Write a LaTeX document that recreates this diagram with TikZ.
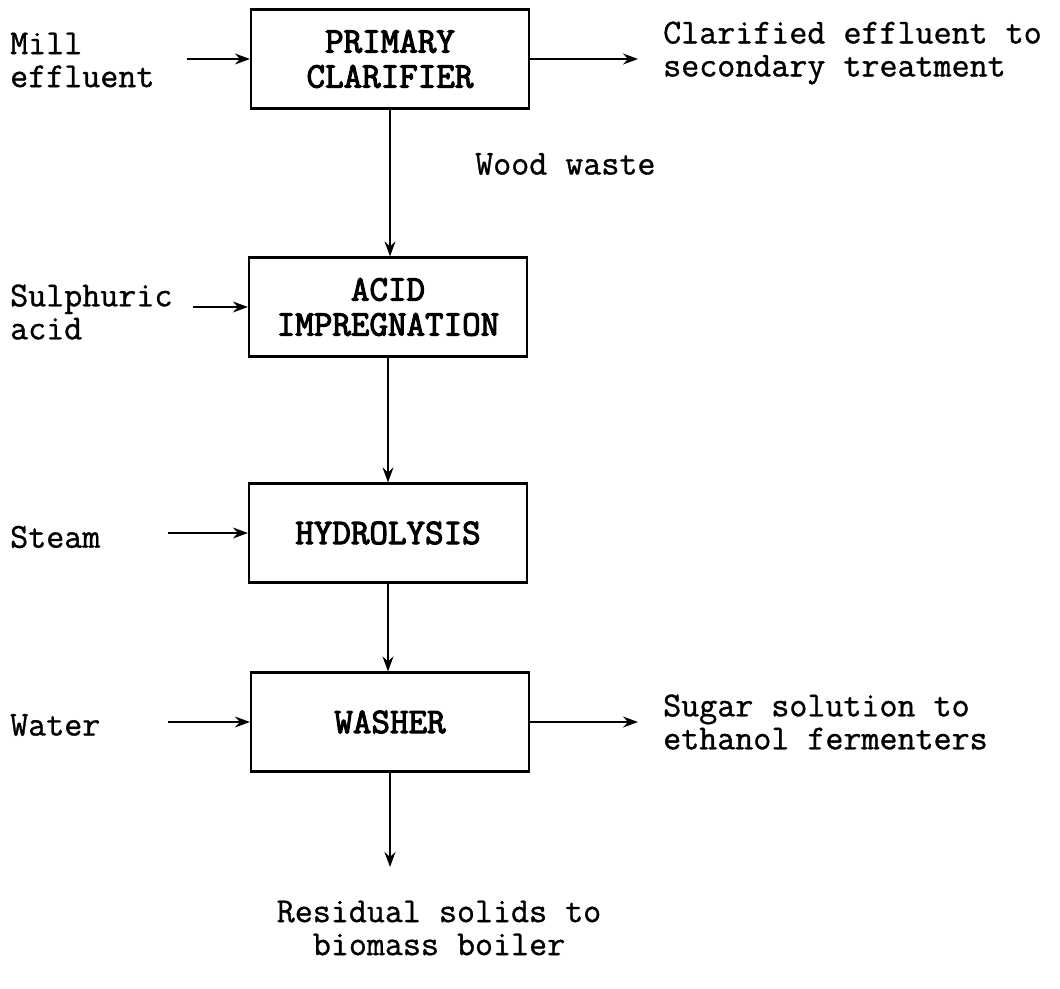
\documentclass[tikz,border=0pt]{standalone}
\usepackage{fontspec}
\newfontfamily\unitfont{Latin Modern Mono}[FakeBold=3]
\newfontfamily\flowfont{Latin Modern Mono}[FakeBold=1]
\usetikzlibrary{arrows.meta,positioning}

\begin{document}
\begin{tikzpicture}[
x=1pt, y=-1pt,
>={Stealth[length=15pt,width=11pt,inset=5pt]},
unit/.style={draw, line width=2.2pt, minimum width=278pt, minimum height=99pt,
  align=center, font=\fontsize{36}{35}\selectfont\unitfont},
label/.style={inner sep=0pt, align=left, font=\fontsize{35}{33}\selectfont\flowfont},
flow/.style={->, line width=1.6pt}]
\useasboundingbox (0,0) rectangle (1060,988);
% process units
\node [unit] (prim) at (390,59) {PRIMARY\\CLARIFIER};
\node [unit] (acid) at (388,307) {ACID\\IMPREGNATION};
\node [unit] (hydro) at (388,533) {HYDROLYSIS};
\node [unit] (wash) at (390,722) {WASHER};
% feed streams
\node [label, anchor=west] (mill) at (10,60) {Mill\\effluent};
\node [label, anchor=west] (sulph) at (10,312) {Sulphuric\\acid};
\node [label, anchor=west] (steam) at (10,537) {Steam};
\node [label, anchor=west] (water) at (10,725) {Water};
\node [label, anchor=west] (wood) at (475,164) {Wood waste};
% products
\node [label, anchor=west] (clar) at (663,53) {Clarified effluent to\\secondary treatment};
\node [label, anchor=west] (sugar) at (663,722) {Sugar solution to\\ethanol fermenters};
\node [label, align=center] (resid) at (439,928) {Residual solids to\\biomass boiler};
% free ends
\coordinate (millin) at (187,59);
\coordinate (sulphin) at (193,307);
\coordinate (steamin) at (168,533);
\coordinate (waterin) at (168,722);
\coordinate (clarout) at (638,59);
\coordinate (sugarout) at (638,722);
\coordinate (residout) at (390,867);
% connectors
\draw [flow] (millin) -- (prim.west);
\draw [flow] (sulphin) -- (acid.west);
\draw [flow] (steamin) -- (hydro.west);
\draw [flow] (waterin) -- (wash.west);
\draw [flow] (prim.east) -- (clarout);
\draw [flow] (wash.east) -- (sugarout);
\draw [flow] (prim.south) -- (prim.south |- acid.north);
\draw [flow] (acid.south) -- (acid.south |- hydro.north);
\draw [flow] (hydro.south) -- (hydro.south |- wash.north);
\draw [flow] (wash.south) -- (residout);
\end{tikzpicture}
\end{document}
